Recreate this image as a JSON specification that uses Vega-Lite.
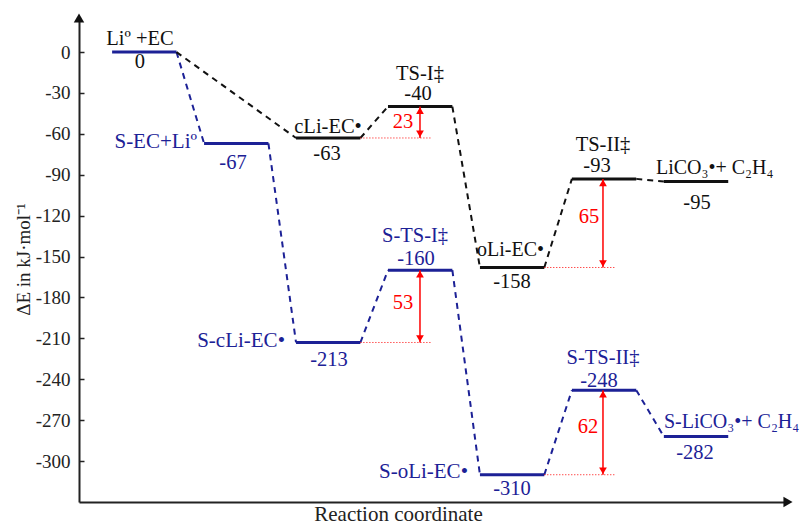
{
  "$schema": "https://vega.github.io/schema/vega-lite/v6.json",
  "width": 709,
  "height": 484,
  "autosize": "none",
  "padding": {"left": 79, "top": 18, "right": 22, "bottom": 24},
  "background": "white",
  "config": {"view": {"stroke": null}, "font": "Liberation Serif"},
  "datasets": {
    "levels": [
      {"x": 0, "x2": 0.7, "e": 0, "c": "blue"},
      {"x": 1, "x2": 1.7, "e": -67, "c": "blue"},
      {"x": 2, "x2": 2.7, "e": -213, "c": "blue"},
      {"x": 3, "x2": 3.7, "e": -160, "c": "blue"},
      {"x": 4, "x2": 4.7, "e": -310, "c": "blue"},
      {"x": 5, "x2": 5.7, "e": -248, "c": "blue"},
      {"x": 6, "x2": 6.7, "e": -282, "c": "blue"},
      {"x": 2, "x2": 2.7, "e": -63, "c": "black"},
      {"x": 3, "x2": 3.7, "e": -40, "c": "black"},
      {"x": 4, "x2": 4.7, "e": -158, "c": "black"},
      {"x": 5, "x2": 5.7, "e": -93, "c": "black"},
      {"x": 6, "x2": 6.7, "e": -95, "c": "black"}
    ],
    "links": [
      {"x": 0.7, "e": 0, "x2": 1, "e2": -67, "c": "blue"},
      {"x": 1.7, "e": -67, "x2": 2, "e2": -213, "c": "blue"},
      {"x": 2.7, "e": -213, "x2": 3, "e2": -160, "c": "blue"},
      {"x": 3.7, "e": -160, "x2": 4, "e2": -310, "c": "blue"},
      {"x": 4.7, "e": -310, "x2": 5, "e2": -248, "c": "blue"},
      {"x": 5.7, "e": -248, "x2": 6, "e2": -282, "c": "blue"},
      {"x": 0.7, "e": 0, "x2": 2, "e2": -63, "c": "black"},
      {"x": 2.7, "e": -63, "x2": 3, "e2": -40, "c": "black"},
      {"x": 3.7, "e": -40, "x2": 4, "e2": -158, "c": "black"},
      {"x": 4.7, "e": -158, "x2": 5, "e2": -93, "c": "black"},
      {"x": 5.7, "e": -93, "x2": 6, "e2": -95, "c": "black"}
    ],
    "gaps": [
      {"x": 2.7, "x2": 3.479, "e": -63},
      {"x": 2.7, "x2": 3.479, "e": -213},
      {"x": 4.7, "x2": 5.469, "e": -158},
      {"x": 4.7, "x2": 5.469, "e": -310}
    ],
    "arrows": [
      {"x": 3.348, "e": -63, "e2": -40},
      {"x": 3.348, "e": -213, "e2": -160},
      {"x": 5.338, "e": -158, "e2": -93},
      {"x": 5.338, "e": -310, "e2": -248}
    ],
    "heads": [
      {"x": 3.348, "e": -63, "s": "triangle-down"},
      {"x": 3.348, "e": -40, "s": "triangle-up"},
      {"x": 3.348, "e": -213, "s": "triangle-down"},
      {"x": 3.348, "e": -160, "s": "triangle-up"},
      {"x": 5.338, "e": -158, "s": "triangle-down"},
      {"x": 5.338, "e": -93, "s": "triangle-up"},
      {"x": 5.338, "e": -310, "s": "triangle-down"},
      {"x": 5.338, "e": -248, "s": "triangle-up"}
    ],
    "labels": [
      {"t": "Liº +EC", "x": 0.303, "e": 9.4, "c": "black", "a": "center"},
      {"t": "0", "x": 0.303, "e": -7.3, "c": "black", "a": "center"},
      {"t": "S-EC+Liº", "x": 0.923, "e": -65.9, "c": "blue", "a": "right"},
      {"t": "-67", "x": 1.315, "e": -81.3, "c": "blue", "a": "center"},
      {"t": "cLi-EC•", "x": 2.348, "e": -54.9, "c": "black", "a": "center"},
      {"t": "-63", "x": 2.337, "e": -74.7, "c": "black", "a": "center"},
      {"t": "TS-I‡", "x": 3.348, "e": -15.8, "c": "black", "a": "center"},
      {"t": "-40", "x": 3.326, "e": -30.8, "c": "black", "a": "center"},
      {"t": "23", "x": 3.163, "e": -51.3, "c": "red", "a": "center"},
      {"t": "S-TS-I‡", "x": 3.294, "e": -134.6, "c": "blue", "a": "center"},
      {"t": "-160", "x": 3.305, "e": -151.8, "c": "blue", "a": "center"},
      {"t": "oLi-EC•", "x": 3.968, "e": -145.2, "c": "black", "a": "left"},
      {"t": "-158", "x": 4.349, "e": -168.6, "c": "black", "a": "center"},
      {"t": "53", "x": 3.163, "e": -184.0, "c": "red", "a": "center"},
      {"t": "S-cLi-EC•", "x": 1.880, "e": -211.9, "c": "blue", "a": "right"},
      {"t": "-213", "x": 2.359, "e": -225.8, "c": "blue", "a": "center"},
      {"t": "S-oLi-EC•", "x": 3.870, "e": -308.0, "c": "blue", "a": "right"},
      {"t": "-310", "x": 4.349, "e": -320.4, "c": "blue", "a": "center"},
      {"t": "TS-II‡", "x": 5.338, "e": -67.8, "c": "black", "a": "center"},
      {"t": "-93", "x": 5.273, "e": -83.6, "c": "black", "a": "center"},
      {"t": "LiCO₃•+ C₂H₄", "x": 5.914, "e": -85.0, "c": "black", "a": "left"},
      {"t": "-95", "x": 6.360, "e": -110.7, "c": "black", "a": "center"},
      {"t": "65", "x": 5.186, "e": -120.9, "c": "red", "a": "center"},
      {"t": "S-TS-II‡", "x": 5.338, "e": -224.1, "c": "blue", "a": "center"},
      {"t": "-248", "x": 5.295, "e": -241.3, "c": "blue", "a": "center"},
      {"t": "62", "x": 5.175, "e": -275.0, "c": "red", "a": "center"},
      {"t": "S-LiCO₃•+ C₂H₄", "x": 6.001, "e": -271.3, "c": "blue", "a": "left"},
      {"t": "-282", "x": 6.339, "e": -294.0, "c": "blue", "a": "center"}
    ],
    "axisEnds": [
      {"x": -0.36, "e": 25, "s": "triangle-up"},
      {"x": 7.35, "e": -330, "s": "triangle-right"}
    ]
  },
  "encoding": {
    "x": {"field": "x", "type": "quantitative", "scale": {"domain": [-0.36, 7.35], "nice": false, "zero": false},
      "axis": {"title": "Reaction coordinate", "ticks": false, "labels": false, "grid": false, "domainColor": "#222", "domainWidth": 2,
        "titleFont": "Liberation Serif", "titleFontSize": 21, "titleFontWeight": "normal", "titleColor": "#222",
        "titleX": 319, "titleY": 12, "titleBaseline": "middle", "titleAlign": "center"}},
    "y": {"field": "e", "type": "quantitative", "scale": {"domain": [-330, 25], "nice": false, "zero": false},
      "axis": {"title": "ΔE in kJ·mol⁻¹", "values": [0, -30, -60, -90, -120, -150, -180, -210, -240, -270, -300],
        "labelExpr": "'' + datum.value",
        "grid": false, "domainColor": "#222", "domainWidth": 2, "tickColor": "#222", "tickWidth": 1.5, "tickSize": -5,
        "labelFont": "Liberation Serif", "labelFontSize": 19, "labelColor": "#222", "labelPadding": 14,
        "titleFont": "Liberation Serif", "titleFontSize": 19, "titleFontWeight": "normal", "titleColor": "#222",
        "titleX": -56, "titleY": 241, "titleAngle": -90, "titleBaseline": "middle", "titleAlign": "center"}}
  },
  "layer": [
    {
      "data": {"name": "levels"},
      "mark": {"type": "rule", "strokeWidth": 3},
      "encoding": {
        "x2": {"field": "x2"},
        "color": {"field": "c", "type": "nominal", "scale": {"domain": ["blue", "black", "red"], "range": ["#1c2196", "#111111", "#ff0000"]}, "legend": null}
      }
    },
    {
      "data": {"name": "links"},
      "mark": {"type": "rule", "strokeWidth": 2, "strokeDash": [6, 5]},
      "encoding": {
        "x2": {"field": "x2"},
        "y2": {"field": "e2"},
        "color": {"field": "c", "type": "nominal", "scale": {"domain": ["blue", "black", "red"], "range": ["#1c2196", "#111111", "#ff0000"]}, "legend": null}
      }
    },
    {
      "data": {"name": "gaps"},
      "mark": {"type": "rule", "strokeWidth": 1, "strokeDash": [1, 2], "color": "#ff0000"},
      "encoding": {"x2": {"field": "x2"}}
    },
    {
      "data": {"name": "arrows"},
      "mark": {"type": "rule", "strokeWidth": 1.5, "color": "#ff0000"},
      "encoding": {"y2": {"field": "e2"}}
    },
    {
      "data": {"name": "heads"},
      "transform": [{"filter": "datum.s === 'triangle-up'"}],
      "mark": {"type": "point", "shape": "triangle-up", "filled": true, "size": 60, "color": "#ff0000", "opacity": 1, "yOffset": 4}
    },
    {
      "data": {"name": "heads"},
      "transform": [{"filter": "datum.s === 'triangle-down'"}],
      "mark": {"type": "point", "shape": "triangle-down", "filled": true, "size": 60, "color": "#ff0000", "opacity": 1, "yOffset": -4}
    },
    {
      "data": {"name": "axisEnds"},
      "mark": {"type": "point", "filled": true, "size": 110, "color": "#111111", "opacity": 1},
      "encoding": {"shape": {"field": "s", "type": "nominal", "scale": null}}
    },
    {
      "data": {"name": "labels"},
      "transform": [{"filter": "datum.a === 'center'"}],
      "mark": {"type": "text", "align": "center", "baseline": "middle", "fontSize": 20.5, "font": "Liberation Serif"},
      "encoding": {
        "text": {"field": "t"},
        "color": {"field": "c", "type": "nominal", "scale": {"domain": ["blue", "black", "red"], "range": ["#1c2196", "#111111", "#ff0000"]}, "legend": null}
      }
    },
    {
      "data": {"name": "labels"},
      "transform": [{"filter": "datum.a === 'right'"}],
      "mark": {"type": "text", "align": "right", "baseline": "middle", "fontSize": 21, "font": "Liberation Serif"},
      "encoding": {
        "text": {"field": "t"},
        "color": {"field": "c", "type": "nominal", "scale": {"domain": ["blue", "black", "red"], "range": ["#1c2196", "#111111", "#ff0000"]}, "legend": null}
      }
    },
    {
      "data": {"name": "labels"},
      "transform": [{"filter": "datum.a === 'left'"}],
      "mark": {"type": "text", "align": "left", "baseline": "middle", "fontSize": 20, "font": "Liberation Serif"},
      "encoding": {
        "text": {"field": "t"},
        "color": {"field": "c", "type": "nominal", "scale": {"domain": ["blue", "black", "red"], "range": ["#1c2196", "#111111", "#ff0000"]}, "legend": null}
      }
    }
  ]
}
